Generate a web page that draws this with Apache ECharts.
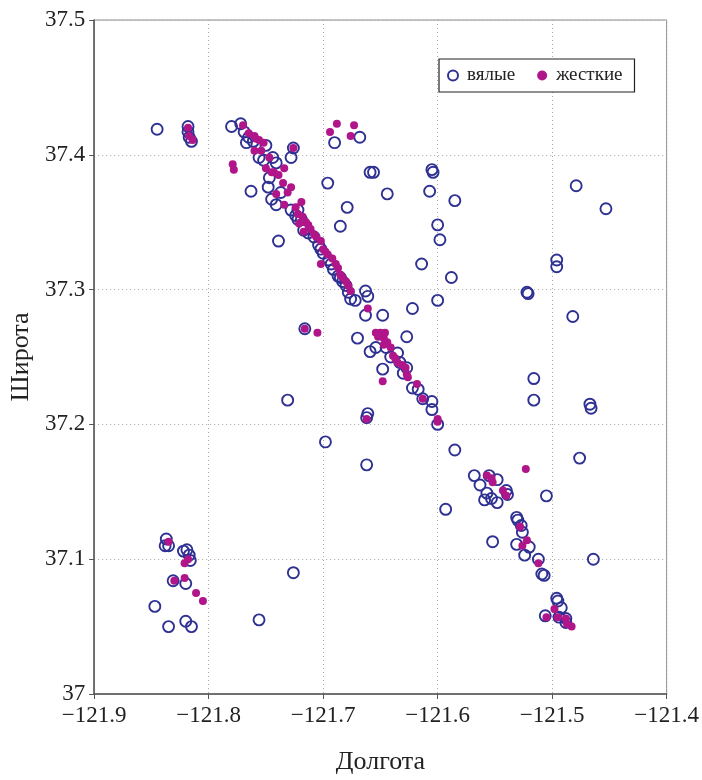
<!DOCTYPE html>
<html>
<head>
<meta charset="utf-8">
<script src="https://cdn.jsdelivr.net/npm/echarts@6/dist/echarts.min.js"></script>
<style>html,body{margin:0;padding:0;background:#fff}#c{width:702px;height:780px}</style>
</head>
<body>
<div id="c"></div>
<script>
var xTicks = [-121.9, -121.8, -121.7, -121.6, -121.5, -121.4];
var yTicks = [37, 37.1, 37.2, 37.3, 37.4, 37.5];
var seriesNames = ['вялые', 'жесткие'];

// вялые (open circles): [longitude, latitude]
var softLon = [-121.845,-121.818,-121.818,-121.817,-121.815,-121.780,-121.772,-121.769,-121.765,-121.761,
-121.750,-121.726,-121.728,-121.752,-121.756,-121.741,-121.763,-121.748,-121.745,-121.741,
-121.739,-121.737,-121.722,-121.722,-121.719,-121.717,-121.708,-121.704,-121.700,-121.695,
-121.691,-121.687,-121.683,-121.680,-121.678,-121.676,-121.672,-121.663,-121.661,-121.663,
-121.648,-121.622,-121.600,-121.588,-121.614,-121.598,-121.600,-121.585,-121.607,-121.605,
-121.604,-121.644,-121.659,-121.656,-121.696,-121.679,-121.685,-121.690,-121.668,-121.479,
-121.453,-121.496,-121.496,-121.522,-121.521,-121.482,-121.716,-121.670,-121.659,-121.654,
-121.648,-121.641,-121.635,-121.633,-121.627,-121.622,-121.627,-121.613,-121.605,-121.605,
-121.600,-121.731,-121.661,-121.662,-121.698,-121.662,-121.585,-121.593,-121.516,-121.516,
-121.467,-121.466,-121.476,-121.568,-121.555,-121.563,-121.548,-121.557,-121.553,-121.548,
-121.540,-121.539,-121.559,-121.505,-121.531,-121.530,-121.527,-121.526,-121.531,-121.524,
-121.520,-121.552,-121.512,-121.509,-121.507,-121.464,-121.496,-121.495,-121.492,-121.506,
-121.494,-121.488,-121.488,-121.837,-121.835,-121.838,-121.822,-121.819,-121.817,-121.816,
-121.831,-121.820,-121.847,-121.835,-121.820,-121.815,-121.756,-121.726,-121.728,-121.724,
-121.713,-121.702,-121.693,-121.685,-121.747,-121.767,-121.744,-121.645,-121.630,-121.617];
var softLat = [37.419,37.421,37.417,37.413,37.410,37.421,37.423,37.417,37.413,37.410,
37.407,37.405,37.398,37.396,37.398,37.394,37.373,37.376,37.367,37.363,
37.336,37.372,37.359,37.352,37.352,37.344,37.339,37.333,37.327,37.322,
37.315,37.310,37.306,37.303,37.298,37.293,37.292,37.299,37.295,37.281,
37.281,37.286,37.292,37.309,37.319,37.337,37.348,37.366,37.373,37.389,
37.387,37.371,37.387,37.387,37.379,37.361,37.347,37.409,37.413,37.377,
37.360,37.322,37.317,37.298,37.297,37.280,37.271,37.264,37.254,37.257,
37.241,37.250,37.253,37.246,37.242,37.227,37.265,37.219,37.217,37.211,
37.200,37.218,37.208,37.205,37.187,37.170,37.181,37.137,37.234,37.218,
37.215,37.212,37.175,37.162,37.162,37.155,37.159,37.149,37.145,37.142,
37.151,37.148,37.144,37.147,37.131,37.129,37.125,37.120,37.111,37.103,
37.109,37.113,37.100,37.089,37.088,37.100,37.071,37.069,37.064,37.058,
37.057,37.056,37.053,37.115,37.110,37.110,37.106,37.107,37.103,37.099,
37.084,37.082,37.065,37.050,37.054,37.050,37.055,37.090,37.359,37.355,
37.342,37.330,37.319,37.309,37.383,37.409,37.398,37.257,37.238,37.226];

// жесткие (filled dots): [longitude, latitude]
var hardLon = [-121.818,-121.817,-121.814,-121.770,-121.765,-121.760,-121.756,-121.760,-121.754,-121.726,
-121.779,-121.778,-121.750,-121.743,-121.739,-121.734,-121.735,-121.731,-121.741,-121.734,
-121.724,-121.722,-121.721,-121.717,-121.718,-121.713,-121.708,-121.702,-121.700,-121.696,
-121.702,-121.692,-121.687,-121.685,-121.680,-121.676,-121.661,-121.705,-121.716,-121.650,
-121.647,-121.654,-121.646,-121.644,-121.641,-121.639,-121.635,-121.628,-121.627,-121.626,
-121.648,-121.618,-121.613,-121.662,-121.600,-121.600,-121.688,-121.694,-121.673,-121.676,
-121.523,-121.557,-121.553,-121.552,-121.543,-121.540,-121.528,-121.522,-121.526,-121.512,
-121.498,-121.505,-121.495,-121.488,-121.487,-121.483,-121.835,-121.818,-121.821,-121.830,
-121.821,-121.811,-121.805,-121.752,-121.747,-121.728,-121.719,-121.711,-121.706,-121.698,
-121.689,-121.683,-121.678,-121.652,-121.647,-121.637,-121.631,-121.759,-121.745,-121.715];
var hardLat = [37.420,37.414,37.411,37.422,37.416,37.414,37.411,37.403,37.403,37.405,
37.393,37.389,37.390,37.387,37.385,37.390,37.379,37.372,37.371,37.363,
37.361,37.356,37.349,37.343,37.354,37.348,37.341,37.336,37.330,37.326,
37.319,37.323,37.316,37.311,37.306,37.299,37.286,37.268,37.271,37.268,
37.264,37.268,37.268,37.261,37.257,37.251,37.246,37.242,37.237,37.235,
37.232,37.230,37.219,37.204,37.204,37.202,37.423,37.417,37.422,37.414,
37.167,37.162,37.160,37.157,37.151,37.147,37.124,37.114,37.110,37.097,
37.063,37.057,37.057,37.056,37.052,37.050,37.113,37.100,37.097,37.084,
37.086,37.075,37.069,37.409,37.398,37.376,37.365,37.345,37.339,37.328,
37.319,37.309,37.303,37.265,37.259,37.249,37.244,37.412,37.387,37.350];

function pairs(a, b) { return a.map(function (v, i) { return [v, b[i]]; }); }

var serif = 'Liberation Serif';
var chart = echarts.init(document.getElementById('c'), null, { renderer: 'canvas' });
chart.setOption({
  backgroundColor: '#fff',
  animation: false,
  grid: { left: 92, top: 20, width: 576, height: 684, show: true, borderColor: '#8a8a8a', borderWidth: 1, backgroundColor: 'transparent' },
  legend: {
    left: 439, top: 59, orient: 'horizontal',
    data: [
      { name: seriesNames[0], icon: 'circle', itemStyle: { color: '#fff', borderColor: '#2e3192', borderWidth: 2, opacity: 1 } },
      { name: seriesNames[1], icon: 'circle', itemStyle: { color: '#b0168a', borderWidth: 0, opacity: 1 } }
    ],
    itemWidth: 10, itemHeight: 10, itemGap: 22,
    padding: [7, 12, 7, 8],
    borderColor: '#222', borderWidth: 1.2, backgroundColor: '#fff',
    textStyle: { fontFamily: serif, fontSize: 19, color: '#222', padding: [0, 0, 0, 4] }
  },
  xAxis: {
    type: 'value', min: xTicks[0], max: xTicks[xTicks.length - 1], interval: 0.1,
    name: 'Долгота', nameLocation: 'middle', nameGap: 55,
    nameTextStyle: { fontFamily: serif, fontSize: 26, color: '#222' },
    axisLine: { show: true, onZero: false, lineStyle: { color: '#555', width: 1.5 } },
    axisTick: { show: true, length: 5, lineStyle: { color: '#555' } },
    axisLabel: { fontFamily: serif, fontSize: 23, color: '#222', margin: 10,
      formatter: function (v) { return String(Math.round(v * 10) / 10).replace('-', '\u2212'); } },
    splitLine: { show: true, lineStyle: { color: '#aaa', type: [1, 3], width: 1 } }
  },
  yAxis: {
    type: 'value', min: yTicks[0], max: yTicks[yTicks.length - 1], interval: 0.1,
    name: 'Широта', nameLocation: 'middle', nameGap: 56,
    nameTextStyle: { fontFamily: serif, fontSize: 26, color: '#222' },
    axisLine: { show: true, onZero: false, lineStyle: { color: '#555', width: 1.5 } },
    axisTick: { show: true, length: 5, lineStyle: { color: '#555' } },
    axisLabel: { fontFamily: serif, fontSize: 23, color: '#222', margin: 9,
      formatter: function (v) { return String(Math.round(v * 10) / 10); } },
    splitLine: { show: true, lineStyle: { color: '#aaa', type: [1, 3], width: 1 } }
  },
  series: [
    { name: seriesNames[0], type: 'scatter', data: pairs(softLon, softLat), symbol: 'circle', symbolSize: 11,
      itemStyle: { color: 'rgba(255,255,255,0)', borderColor: '#2e3192', borderWidth: 1.9, opacity: 1 } },
    { name: seriesNames[1], type: 'scatter', data: pairs(hardLon, hardLat), symbol: 'circle', symbolSize: 8,
      itemStyle: { color: '#b0168a', borderWidth: 0, opacity: 1 } }
  ]
});
</script>
</body>
</html>
